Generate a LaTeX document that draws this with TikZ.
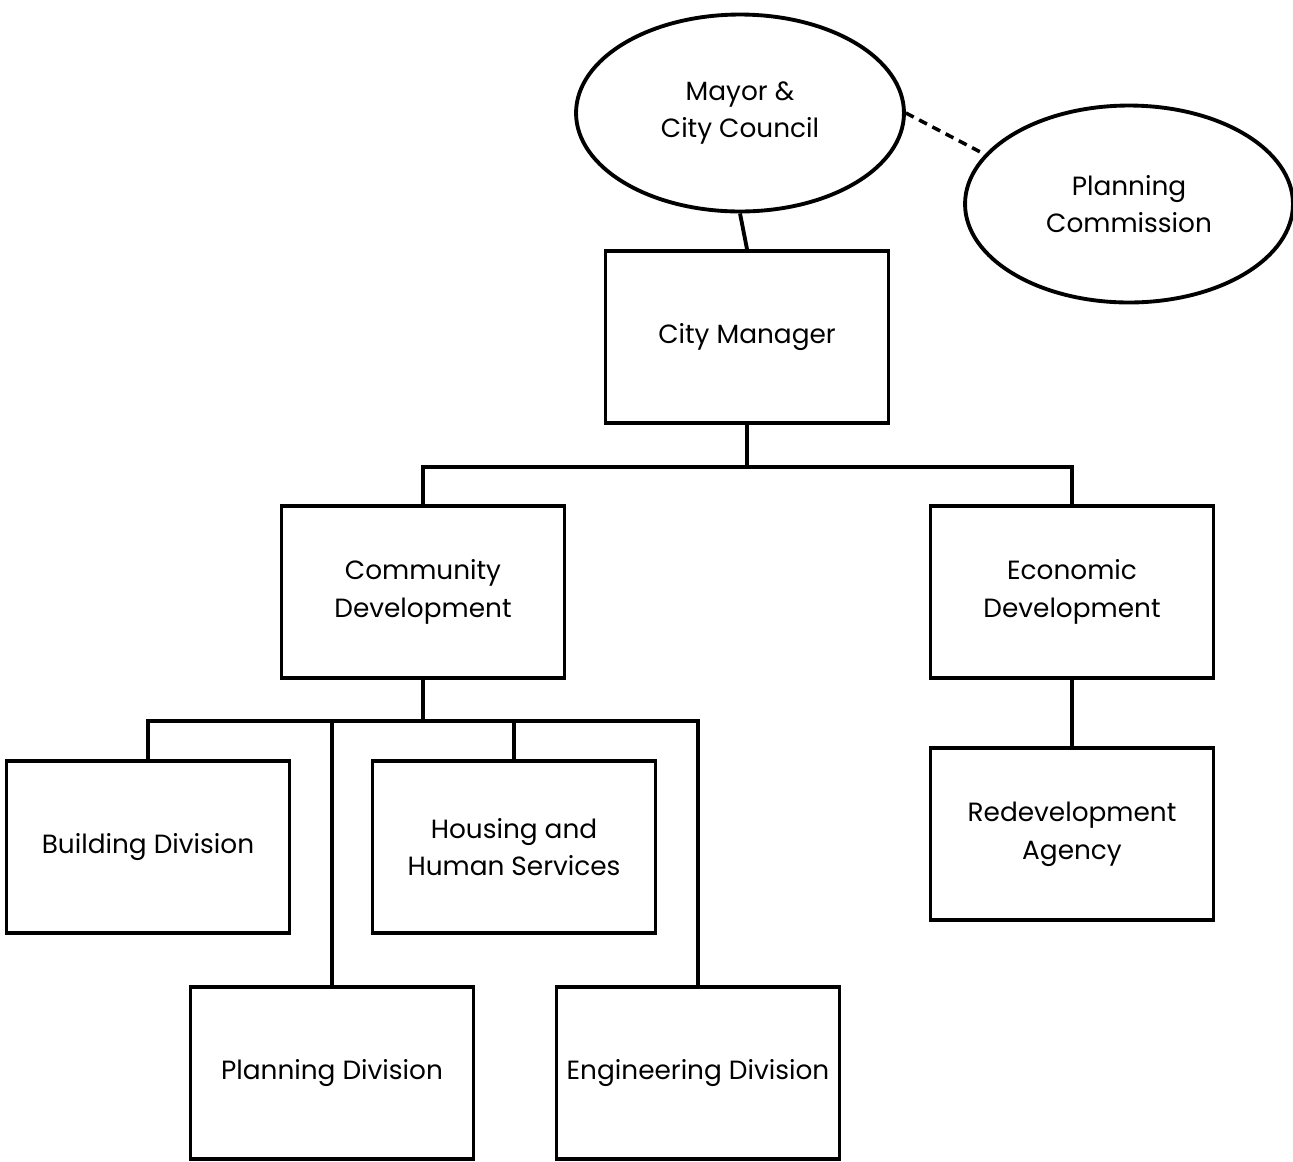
\documentclass[tikz,border=0pt]{standalone}
\usepackage{fontspec}
\setmainfont{Poppins}
\usetikzlibrary{positioning, shapes.geometric}

\begin{document}
\begin{tikzpicture}[
    x=0.02cm, y=-0.02cm,
    office/.style={
        rectangle,
        draw=black,
        line width=2.2pt,
        minimum width=5.66cm,
        minimum height=3.44cm,
        align=center,
        font=\fontsize{15}{21.5}\selectfont
    },
    board/.style={
        ellipse,
        draw=black,
        line width=2.2pt,
        minimum width=6.56cm,
        minimum height=3.94cm,
        align=center,
        font=\fontsize{15}{21.5}\selectfont
    },
    link/.style={line width=2.2pt},
    advisory/.style={line width=2pt, dashed, dash pattern=on 5pt off 3.5pt}
]
\useasboundingbox (0,0) rectangle (1293,1161);

% === Elected and advisory bodies ===
\node[board] (mayor) at (740,113) {Mayor \&\\City Council};
\node[board] (commission) at (1129,204) {Planning\\Commission};
\draw[advisory] (mayor.east) -- (commission.161);

% === Administration ===
\node[office] (manager) at (747,337) {City Manager};
\draw[link] (mayor.south) -- (manager.north);

% === Departments ===
\node[office] (community) at (423,592) {Community\\Development};
\node[office] (economic) at (1072,592) {Economic\\Development};
\draw[link] (manager.south) -- ++(0,42) -| (community.north);
\draw[link] (manager.south) -- ++(0,42) -| (economic.north);

\node[office] (redevelopment) at (1072,834) {Redevelopment\\Agency};
\draw[link] (economic.south) -- (redevelopment.north);

% === Divisions ===
\node[office] (building) at (148,847) {Building Division};
\node[office] (housing) at (514,847) {Housing and\\Human Services};
\node[office] (planning) at (332,1073) {Planning Division};
\node[office] (engineering) at (698,1073) {Engineering Division};

\draw[link] (community.south) -- ++(0,41) coordinate (bar);
\draw[link] (bar) -| (building.north);
\draw[link] (bar) -| (housing.north);
\draw[link] (bar) -| (planning.north);
\draw[link] (bar) -| (engineering.north);

\end{tikzpicture}
\end{document}
